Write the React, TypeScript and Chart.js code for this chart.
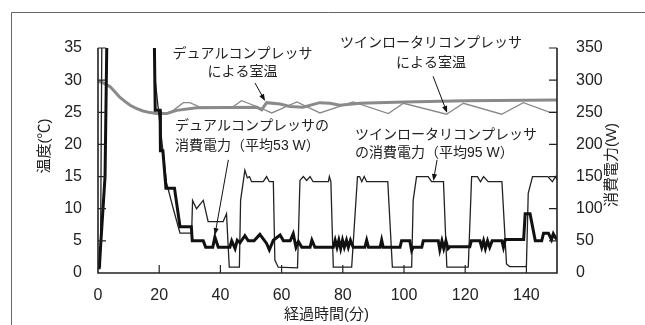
import React, { useEffect, useRef } from "react";
import { Chart, registerables } from "chart.js";

Chart.register(...registerables);

// ---- Room temperature, dual compressor (thick gray, °C) ----
const dualTempMin = [0, 1, 2, 3.9, 5.5, 7, 8.8, 10.5, 12.5, 14.7, 17, 19.2, 22.5, 25.7, 32.3, 43, 51.9, 53.5, 55.1, 59.5, 62.7, 67, 72.5, 75.8, 79, 85.6, 100, 120, 150];
const dualTempC = [29.8, 29.7, 29.5, 29.0, 28.2, 27.4, 26.7, 26.1, 25.6, 25.2, 24.95, 24.8, 24.8, 25.3, 25.7, 25.75, 25.8, 25.4, 26.5, 26.3, 25.9, 25.8, 26.5, 26.4, 26.1, 26.4, 26.6, 26.8, 26.9];

// ---- Room temperature, twin rotary compressor (thin gray, °C) ----
const twinTempMin = [0, 1, 2, 3.9, 5.5, 7, 8.8, 10.5, 12.5, 14.7, 17, 19.2, 22, 24.6, 27.9, 30, 33.3, 44, 46.9, 51.9, 56.8, 65, 72.5, 83.4, 94.9, 99.8, 113.9, 119.4, 131.9, 139, 147.7, 150];
const twinTempC = [29.8, 29.7, 29.5, 29.0, 28.2, 27.4, 26.7, 26.1, 25.6, 25.2, 24.95, 24.8, 24.8, 25.3, 26.5, 26.5, 25.8, 25.8, 26.8, 25.9, 24.9, 26.6, 24.9, 26.6, 24.8, 26.4, 24.7, 26.4, 24.7, 26.5, 25.0, 25.0];

// ---- Power consumption, dual compressor (thick black, W) ----
const dualPowerMin = [
  0, 0.4, 2.3, 3.0, 18.3, 18.7, 20.3, 20.4, 21.2, 22.2,
  25.0, 26.8, 30.5, 30.8, 34.4, 35.2, 37.5, 38.2, 39.3, 43.1,
  43.7, 44.8, 45.5, 46.4, 48.0, 49.1, 51.0, 52.9, 55.1, 56.0,
  57.3, 59.5, 60.6, 62.8, 63.8, 64.7, 65.5, 66.6, 69.3, 69.9,
  70.9, 76.9, 77.5, 78.1, 78.7, 79.3, 79.9, 80.5, 81.2, 81.8,
  82.5, 83.4, 87.2, 87.8, 88.4, 92.2, 92.7, 93.2, 98.7, 99.2,
  101.9, 102.5, 103.0, 105.8, 106.3, 111.2, 111.7, 112.4, 113.0, 113.7,
  114.4, 115.0, 121.5, 122.0, 124.8, 125.4, 126.0, 126.6, 127.3, 128.0,
  128.8, 129.5, 132.0, 132.5, 133.1, 139.1, 139.6, 141.2, 142.9, 145.0,
  145.6, 147.2, 148.2, 148.8, 149.5, 150,
];
const dualPowerW = [
  8, 8, 150, 400, 400, 253, 253, 190, 190, 132,
  132, 72, 72, 50, 50, 40, 40, 56, 40, 40,
  50, 38, 51, 47, 58, 50, 50, 60, 46, 36,
  51, 59, 50, 50, 61, 40, 49, 40, 40, 51,
  40, 40, 51, 40, 51, 38, 51, 40, 51, 40,
  51, 40, 40, 51, 40, 40, 51, 40, 40, 50,
  50, 35, 40, 40, 50, 50, 36, 50, 38, 50,
  38, 41, 41, 50, 50, 40, 50, 38, 50, 40,
  50, 50, 50, 40, 52, 52, 92, 92, 50, 50,
  62, 62, 52, 61, 55, 52,
];

// ---- Power consumption, twin rotary compressor (thin black, W) ----
const twinPowerMin = [
  0, 0.8, 1.3, 18.3, 18.7, 20.5, 22.4, 24.6, 26.8, 30.6,
  30.9, 32.2, 34.4, 36.0, 40.9, 42.0, 42.9, 46.2, 46.6, 48.0,
  48.8, 49.5, 50.2, 54.0, 55.1, 56.0, 57.3, 57.8, 58.9, 65.2,
  66.0, 67.1, 68.2, 69.3, 70.3, 75.3, 75.6, 76.1, 76.9, 82.9,
  84.8, 85.5, 86.2, 87.0, 87.8, 94.7, 96.2, 102.5, 103.0, 104.1,
  107.9, 109.0, 112.9, 114.0, 121.0, 122.1, 124.0, 125.0, 126.0, 127.5,
  132.0, 133.5, 134.5, 140.0, 140.6, 142.0, 147.0, 148.5, 149.5, 150,
];
const twinPowerW = [
  10, 10, 400, 400, 300, 220, 140, 100, 62, 62,
  113, 100, 113, 80, 80, 92, 9, 9, 113, 160,
  148, 150, 142, 142, 150, 142, 142, 20, 9, 8,
  144, 150, 144, 150, 142, 142, 150, 142, 9, 9,
  150, 150, 142, 150, 142, 142, 9, 9, 113, 150,
  150, 142, 142, 9, 9, 150, 150, 142, 150, 142,
  142, 14, 10, 10, 124, 150, 150, 142, 150, 145,
];

// ---- Axis tick steps ----
const xTickStep = 20;
const tempTickStep = 5;
const powerTickStep = 50;

// ---- Texts ----
const xTitle = "経過時間(分)";
const yTitle = "温度(℃)";
const y2Title = "消費電力(W)";

// annotations in data units (x: minutes, y: °C on left axis)
const notes = [
  { lines: ["デュアルコンプレッサ", "による室温"], x: 47.2, ys: [34.1, 31.3], align: "center" },
  { lines: ["ツインロータリコンプレッサ", "による室温"], x: 108.8, ys: [35.7, 32.6], align: "center" },
  { lines: ["デュアルコンプレッサの", "消費電力（平均53 W）"], x: 25.2, ys: [22.8, 19.8], align: "left" },
  { lines: ["ツインロータリコンプレッサ", "の消費電力（平均95 W）"], x: 84.0, ys: [21.5, 18.6], align: "left" },
];
const arrows = [
  { from: [51.3, 29.55], to: [54.6, 26.75] },
  { from: [109.5, 30.6], to: [114.1, 24.9] },
  { from: [42.6, 17.6], to: [38.2, 5.9] },
  { from: [110.8, 17.6], to: [109.6, 14.3] },
];

const FONT = "'Liberation Sans', 'Noto Sans CJK JP', sans-serif";
const TEXT = "#222";

function zip(xs: number[], ys: number[]) {
  const n = Math.min(xs.length, ys.length);
  const out: { x: number; y: number }[] = [];
  for (let i = 0; i < n; i++) out.push({ x: xs[i], y: ys[i] });
  return out;
}

const decorPlugin = {
  id: "decor",
  beforeDraw(chart: any) {
    const ctx = chart.ctx;
    ctx.save();
    ctx.fillStyle = "#fff";
    ctx.fillRect(0, 0, chart.width, chart.height);
    ctx.strokeStyle = "#666";
    ctx.lineWidth = 1;
    ctx.beginPath();
    ctx.moveTo(11.5, chart.height);
    ctx.lineTo(11.5, 12.5);
    ctx.lineTo(chart.width, 12.5);
    ctx.stroke();
    ctx.restore();
  },
  afterDraw(chart: any) {
    const ctx = chart.ctx;
    const { left, right, top, bottom } = chart.chartArea;
    const xs = chart.scales.x;
    const ys = chart.scales.y;
    const y2 = chart.scales.y2;
    ctx.save();
    // axes
    ctx.strokeStyle = "#222";
    ctx.lineWidth = 1.6;
    ctx.beginPath();
    ctx.moveTo(left, top);
    ctx.lineTo(left, bottom);
    ctx.lineTo(right, bottom);
    ctx.lineTo(right, top);
    ctx.stroke();
    // inner ticks
    ctx.lineWidth = 1.2;
    ctx.beginPath();
    ys.ticks.forEach((t: any) => {
      if (t.value === 0) return;
      const p = ys.getPixelForValue(t.value);
      ctx.moveTo(left, p);
      ctx.lineTo(left + 8, p);
    });
    y2.ticks.forEach((t: any) => {
      if (t.value === 0) return;
      const p = y2.getPixelForValue(t.value);
      ctx.moveTo(right, p);
      ctx.lineTo(right - 8, p);
    });
    xs.ticks.forEach((t: any) => {
      if (t.value === 0) return;
      const p = xs.getPixelForValue(t.value);
      ctx.moveTo(p, bottom);
      ctx.lineTo(p, bottom - 8);
    });
    ctx.stroke();

    // titles
    ctx.fillStyle = TEXT;
    ctx.font = `15px ${FONT}`;
    ctx.textAlign = "center";
    ctx.textBaseline = "middle";
    ctx.fillText(xTitle, (left + right) / 2 - 1, 315);
    ctx.save();
    ctx.translate(45, 146);
    ctx.rotate(-Math.PI / 2);
    ctx.fillText(yTitle, 0, 0);
    ctx.restore();
    ctx.save();
    ctx.translate(612, 165);
    ctx.rotate(-Math.PI / 2);
    ctx.fillText(y2Title, 0, 0);
    ctx.restore();

    // annotations
    ctx.font = `14px ${FONT}`;
    notes.forEach((n) => {
      ctx.textAlign = n.align as CanvasTextAlign;
      const px = xs.getPixelForValue(n.x);
      n.lines.forEach((line, i) => {
        ctx.fillText(line, px, ys.getPixelForValue(n.ys[i]));
      });
    });

    // arrows
    ctx.strokeStyle = "#111";
    ctx.fillStyle = "#111";
    ctx.lineWidth = 1;
    arrows.forEach((a) => {
      const x1 = xs.getPixelForValue(a.from[0]);
      const y1 = ys.getPixelForValue(a.from[1]);
      const x2 = xs.getPixelForValue(a.to[0]);
      const y2p = ys.getPixelForValue(a.to[1]);
      const ang = Math.atan2(y2p - y1, x2 - x1);
      const hl = 7;
      const hw = 2.6;
      ctx.beginPath();
      ctx.moveTo(x1, y1);
      ctx.lineTo(x2 - Math.cos(ang) * hl * 0.8, y2p - Math.sin(ang) * hl * 0.8);
      ctx.stroke();
      ctx.beginPath();
      ctx.moveTo(x2, y2p);
      ctx.lineTo(x2 - Math.cos(ang) * hl - Math.sin(ang) * hw, y2p - Math.sin(ang) * hl + Math.cos(ang) * hw);
      ctx.lineTo(x2 - Math.cos(ang) * hl + Math.sin(ang) * hw, y2p - Math.sin(ang) * hl - Math.cos(ang) * hw);
      ctx.closePath();
      ctx.fill();
    });
    ctx.restore();
  },
};

export default function App() {
  const ref = useRef<HTMLCanvasElement | null>(null);
  useEffect(() => {
    if (!ref.current) return;
    const chart = new Chart(ref.current, {
      type: "line",
      data: {
        datasets: [
          {
            data: zip(dualPowerMin, dualPowerW),
            yAxisID: "y2",
            borderColor: "#111",
            borderWidth: 3,
            pointRadius: 0,
            tension: 0,
          },
          {
            data: zip(twinPowerMin, twinPowerW),
            yAxisID: "y2",
            borderColor: "#222",
            borderWidth: 1.3,
            pointRadius: 0,
            tension: 0,
          },
          {
            data: zip(dualTempMin, dualTempC),
            yAxisID: "y",
            borderColor: "#8a8a8a",
            borderWidth: 3,
            pointRadius: 0,
            tension: 0,
          },
          {
            data: zip(twinTempMin, twinTempC),
            yAxisID: "y",
            borderColor: "#8a8a8a",
            borderWidth: 1.3,
            pointRadius: 0,
            tension: 0,
          },
        ],
      },
      options: {
        animation: false,
        responsive: false,
        devicePixelRatio: 1,
        layout: { padding: { top: 48, left: 0, right: 0, bottom: 0 } },
        plugins: { legend: { display: false }, tooltip: { enabled: false } },
        scales: {
          x: {
            type: "linear",
            min: 0,
            max: 150,
            grid: { display: false },
            border: { display: false },
            ticks: {
              stepSize: xTickStep,
              includeBounds: false,
              padding: 5,
              maxRotation: 0,
              color: TEXT,
              font: { size: 16, family: FONT },
            },
            afterFit: (s: any) => {
              s.height = 52;
            },
          },
          y: {
            position: "left",
            min: 0,
            max: 35,
            grid: { display: false },
            border: { display: false },
            ticks: { stepSize: tempTickStep, padding: 8, color: TEXT, font: { size: 16, family: FONT } },
            afterFit: (s: any) => {
              s.width = 98;
            },
          },
          y2: {
            position: "right",
            min: 0,
            max: 350,
            grid: { display: false },
            border: { display: false },
            ticks: { stepSize: powerTickStep, padding: 11, color: TEXT, font: { size: 16, family: FONT } },
            afterFit: (s: any) => {
              s.width = 88;
            },
          },
        },
      } as any,
      plugins: [decorPlugin],
    });
    return () => chart.destroy();
  }, []);
  return (
    <div style={{ position: "fixed", left: 0, top: 0, width: 645, height: 325, background: "#fff" }}>
      <canvas ref={ref} width={645} height={325} style={{ display: "block", width: 645, height: 325 }} />
    </div>
  );
}
